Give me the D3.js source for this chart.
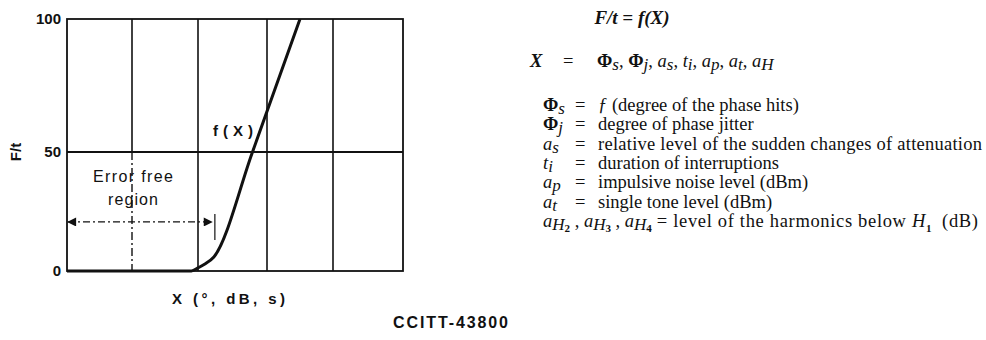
<!DOCTYPE html>
<html>
<head>
<meta charset="utf-8">
<script src="https://cdn.jsdelivr.net/npm/d3@7"></script>
<style>
  body { margin: 0; background: #fff; }
  text { fill: #111; }
</style>
</head>
<body>
<div id="chart"></div>
<script>
// grid columns (arbitrary X units) and F/t levels
var xGrid = [0, 1, 2, 3, 4, 5];
var yGrid = [0, 50, 100];
var yTickLabels = ["0", "50", "100"];

// f(X) curve
var curveX = [0, 1.0, 1.9, 2.0, 2.1, 2.23, 2.79, 3.5];
var curveY = [0, 0, 0, 1.3, 2.9, 5.9, 50, 100];

// error free region: arrow end and level
var errorFreeEnd = 2.23;
var errorFreeLevel = 20.6;
var errorFreeTick = [13, 24];

// right hand text
var symbolRows = [
  [["Φ", "b"], ["s", "i sub"]],
  [["Φ", "b"], ["j", "i sub"]],
  [["a", "i"], ["s", "i sub"]],
  [["t", "i"], ["i", "i sub"]],
  [["a", "i"], ["p", "i sub"]],
  [["a", "i"], ["t", "i sub"]]
];
var descRows = [
  [["ƒ", "i"], [" (degree of the phase hits)", ""]],
  [["degree of phase jitter", ""]],
  [["relative level of the sudden changes of attenuation", ""]],
  [["duration of interruptions", ""]],
  [["impulsive noise level (dBm)", ""]],
  [["single tone level (dBm)", ""]]
];
var harmonicsSymbols = [
  ["a", "i"], ["H", "i sub"], ["2", "sub2"], [" , ", ""],
  ["a", "i"], ["H", "i sub"], ["3", "sub2"], [" , ", ""],
  ["a", "i"], ["H", "i sub"], ["4", "sub2"]
];
var harmonicsDesc = [
  ["= level of the harmonics below ", ""], ["H", "i"], ["1", "sub2"], ["\u2002(dB)", ""]
];
var xList = [
  [["Φ", "b"], ["s", "i sub"], [", ", ""], ["Φ", "b"], ["j", "i sub"], [", ", ""],
   ["a", "i"], ["s", "i sub"], [", ", ""], ["t", "i"], ["i", "i sub"], [", ", ""],
   ["a", "i"], ["p", "i sub"], [", ", ""], ["a", "i"], ["t", "i sub"], [", ", ""],
   ["a", "i"], ["H", "i sub"]]
];

var width = 986, height = 340;
var sans = "'Liberation Sans', Arial, sans-serif";
var serif = "'Liberation Serif', 'Times New Roman', serif";

var svg = d3.select("#chart").append("svg")
    .attr("width", width)
    .attr("height", height);

// scales (hand drawn grid is slightly uneven)
var x = d3.scaleLinear().domain(xGrid).range([67, 132, 198, 267, 333, 403]);
var y = d3.scaleLinear().domain(yGrid).range([271, 152, 19]);

var plot = svg.append("g");

// vertical grid lines, lower part of the second one is dash-dot
plot.selectAll(".vgrid")
    .data(xGrid.slice(1, -1))
  .enter().append("line")
    .attr("x1", function(d) { return x(d); })
    .attr("x2", function(d) { return x(d); })
    .attr("y1", y(100))
    .attr("y2", function(d) { return d === 1 ? y(50) : y(0); })
    .attr("stroke", "#111")
    .attr("stroke-width", 1.6);

plot.append("line")
    .attr("x1", x(1)).attr("x2", x(1))
    .attr("y1", y(50)).attr("y2", y(0))
    .attr("stroke", "#111")
    .attr("stroke-width", 1.4)
    .attr("stroke-dasharray", "8,3,2,3");

// horizontal 50 line
plot.append("line")
    .attr("x1", x(0)).attr("x2", x(5))
    .attr("y1", y(50)).attr("y2", y(50))
    .attr("stroke", "#111")
    .attr("stroke-width", 1.8);

// frame
plot.append("rect")
    .attr("x", x(0))
    .attr("y", y(100))
    .attr("width", x(5) - x(0))
    .attr("height", y(0) - y(100))
    .attr("fill", "none")
    .attr("stroke", "#111")
    .attr("stroke-width", 1.8);

// y labels
plot.selectAll(".ylab")
    .data(yGrid)
  .enter().append("text")
    .attr("x", 61)
    .attr("y", function(d) { return y(d); })
    .attr("dy", "0.36em")
    .attr("text-anchor", "end")
    .attr("font-family", sans)
    .attr("font-size", 15)
    .attr("font-weight", "bold")
    .text(function(d, i) { return yTickLabels[i]; });

plot.append("text")
    .attr("transform", "translate(21," + y(50) + ") rotate(-90)")
    .attr("text-anchor", "middle")
    .attr("font-family", sans)
    .attr("font-size", 15)
    .attr("font-weight", "bold")
    .text("F/t");

// error free arrow
var defs = svg.append("defs");
defs.append("marker")
    .attr("id", "head")
    .attr("viewBox", "0 0 10 10")
    .attr("refX", 9).attr("refY", 5)
    .attr("markerWidth", 10).attr("markerHeight", 9)
    .attr("markerUnits", "userSpaceOnUse")
    .attr("orient", "auto-start-reverse")
  .append("path")
    .attr("d", "M0,0L10,5L0,10z")
    .attr("fill", "#111");

plot.append("line")
    .attr("x1", x(0) + 1).attr("x2", x(errorFreeEnd) - 2)
    .attr("y1", y(errorFreeLevel)).attr("y2", y(errorFreeLevel))
    .attr("stroke", "#111")
    .attr("stroke-width", 1.2)
    .attr("stroke-dasharray", "7,3,2,3")
    .attr("marker-start", "url(#head)")
    .attr("marker-end", "url(#head)");

plot.append("line")
    .attr("x1", x(errorFreeEnd) + 1).attr("x2", x(errorFreeEnd) + 1)
    .attr("y1", y(errorFreeTick[1])).attr("y2", y(errorFreeTick[0]))
    .attr("stroke", "#111")
    .attr("stroke-width", 1.2);

plot.append("text")
    .attr("x", x(1) + 1).attr("y", 182)
    .attr("text-anchor", "middle")
    .attr("font-family", sans)
    .attr("font-size", 16)
    .attr("textLength", 80)
    .attr("lengthAdjust", "spacing")
    .text("Error free");

plot.append("text")
    .attr("x", x(1) + 1).attr("y", 205)
    .attr("text-anchor", "middle")
    .attr("font-family", sans)
    .attr("font-size", 16)
    .attr("textLength", 50)
    .attr("lengthAdjust", "spacing")
    .text("region");

// f(X) curve
var line = d3.line()
    .x(function(d) { return x(d[0]); })
    .y(function(d) { return y(d[1]); })
    .curve(d3.curveMonotoneX);

plot.append("path")
    .datum(d3.zip(curveX, curveY))
    .attr("d", line)
    .attr("fill", "none")
    .attr("stroke", "#111")
    .attr("stroke-width", 3);

plot.append("text")
    .attr("x", 213).attr("y", 136)
    .attr("font-family", sans)
    .attr("font-size", 15)
    .attr("font-weight", "bold")
    .attr("textLength", 40)
    .attr("lengthAdjust", "spacing")
    .text("f(X)");

// x title and figure number
plot.append("text")
    .attr("x", 172).attr("y", 304)
    .attr("font-family", sans)
    .attr("font-size", 15)
    .attr("font-weight", "bold")
    .attr("textLength", 113)
    .attr("lengthAdjust", "spacing")
    .text("X (°, dB, s)");

plot.append("text")
    .attr("x", 393).attr("y", 328)
    .attr("font-family", sans)
    .attr("font-size", 16)
    .attr("font-weight", "bold")
    .attr("textLength", 115)
    .attr("lengthAdjust", "spacing")
    .text("CCITT-43800");

// rich text helper for the formulas
function rich(sel, parts) {
  parts.forEach(function(p) {
    var f = p[1].split(" ");
    var t = sel.append("tspan").text(p[0]);
    if (f.indexOf("i") >= 0) t.attr("font-style", "italic");
    if (f.indexOf("b") >= 0) t.attr("font-weight", "bold");
    if (f.indexOf("sub") >= 0) t.attr("baseline-shift", "-18%").attr("font-size", 17);
    if (f.indexOf("sub2") >= 0) t.attr("baseline-shift", "-45%").attr("font-size", 11).attr("font-weight", "bold");
  });
  return sel;
}

var txt = svg.append("g")
    .attr("font-family", serif)
    .attr("font-size", 18.5);

txt.append("text")
    .attr("x", 632).attr("y", 24)
    .attr("text-anchor", "middle")
    .attr("font-style", "italic")
    .attr("font-weight", "bold")
    .attr("font-size", 19)
    .text("F/t = f(X)");

txt.append("text")
    .attr("x", 530).attr("y", 67)
    .attr("font-style", "italic")
    .attr("font-weight", "bold")
    .text("X");
txt.append("text")
    .attr("x", 563).attr("y", 67)
    .text("=");
rich(txt.append("text").attr("x", 597).attr("y", 67), xList[0]);

var rowY = d3.scaleLinear().domain([0, 6]).range([111, 227]);

symbolRows.forEach(function(row, i) {
  rich(txt.append("text").attr("x", 543).attr("y", rowY(i)), row);
  txt.append("text").attr("x", 575).attr("y", rowY(i)).text("=");
  var d = rich(txt.append("text").attr("x", 598).attr("y", rowY(i)), descRows[i]);
  // the long line is set wider in the original
  if (i === 2) d.attr("textLength", 384).attr("lengthAdjust", "spacing");
});

var hs = rich(txt.append("text").attr("x", 543).attr("y", rowY(6)), harmonicsSymbols);
var hx = 543 + hs.node().getComputedTextLength() + 5;
var hd = rich(txt.append("text").attr("x", hx).attr("y", rowY(6)), harmonicsDesc);
var hw = hd.node().getComputedTextLength();
if (hx + hw < 978) hd.attr("textLength", 978 - hx).attr("lengthAdjust", "spacing");
</script>
</body>
</html>
